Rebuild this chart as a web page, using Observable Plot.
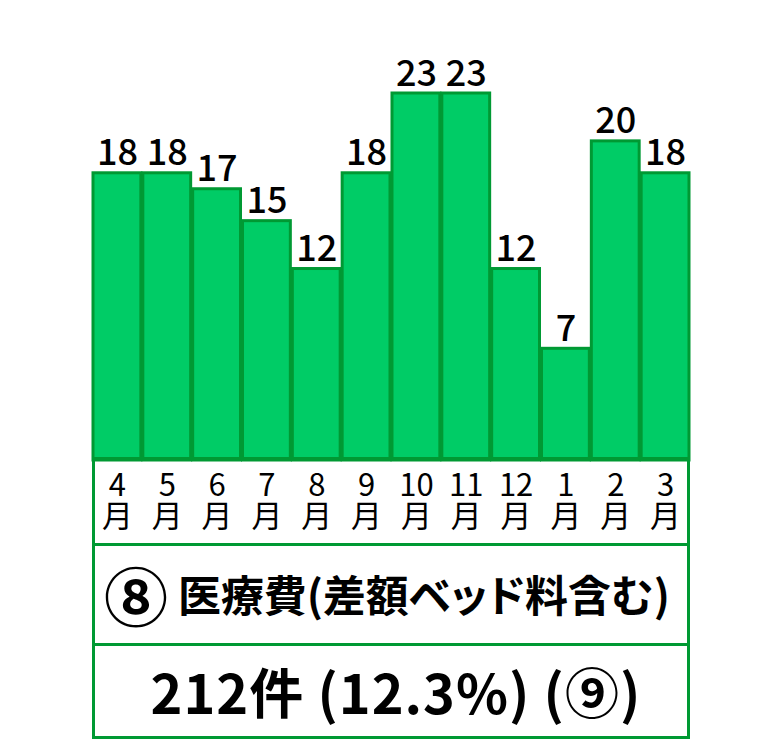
<!DOCTYPE html>
<html>
<head>
<meta charset="utf-8">
<script src="https://cdn.jsdelivr.net/npm/d3@7"></script>
<script src="https://cdn.jsdelivr.net/npm/@observablehq/plot@0.6"></script>
<style>
  html, body { margin: 0; padding: 0; background: #fff; }
  body { width: 781px; height: 740px; position: relative; overflow: hidden;
         font-family: "Noto Sans CJK JP", "Noto Sans", sans-serif; }
  #chart { position: absolute; left: 0; top: 0; }
  .box { position: absolute; left: 92px; width: 598px; box-sizing: border-box;
         border: 3px solid #009933; background: transparent; z-index: 2; }
  .row { position: absolute; left: 92px; width: 598px; box-sizing: border-box;
         border: 3px solid #009933; border-top: none; background: #fff; z-index: 2;
         display: flex; align-items: center; justify-content: center; color: #000;
         white-space: nowrap; }
  #title { top: 546px; height: 100px; font-weight: 700;
           padding-bottom: 4px; padding-right: 8px; }
  #title .num { font-size: 64px; font-weight: 700; margin-right: 10px; }
  #titleMain { font-size: 50px; font-feature-settings: "palt" 1; }
  #count { top: 646px; height: 93px; font-size: 54px; font-weight: 700; letter-spacing: 1px;
           padding-left: 10px; padding-bottom: 2px; }
</style>
</head>
<body>
<div id="chart"></div>
<div class="box" id="monthBox" style="top:457px;height:89px;"></div>
<div class="row" id="title"><span class="num" id="titleNum"></span><span id="titleMain"></span></div>
<div class="row" id="count"></div>
<script>
const months = ["4\n月","5\n月","6\n月","7\n月","8\n月","9\n月","10\n月","11\n月","12\n月","1\n月","2\n月","3\n月"];
const counts = [18, 18, 17, 15, 12, 18, 23, 23, 12, 7, 20, 18];
const titleNum = "⑧";
const titleText = "医療費(差額ベッド料含む)";
const totalText = "212件 (12.3%) (⑨)";

const data = months.map((m, i) => ({month: m, count: counts[i]}));

const chart = Plot.plot({
  width: 781,
  height: 545,
  marginLeft: 92,
  marginRight: 91,
  marginTop: 93,
  marginBottom: 85,
  style: {fontFamily: '"Noto Sans CJK JP", "Noto Sans", sans-serif', background: "transparent", overflow: "visible"},
  x: {domain: months, padding: 0, round: false, label: null},
  y: {domain: [0, 23], axis: null},
  marks: [
    Plot.barY(data, {x: "month", y: "count", fill: "#00CC66", stroke: "#009933", strokeWidth: 3, insetLeft: 1, insetRight: 1}),
    Plot.text(data, {x: "month", y: "count", text: d => String(d.count), lineAnchor: "bottom", dy: -8,
      fontSize: 36, fontFamily: '"Noto Sans CJK JP Medium", "Noto Sans CJK JP", sans-serif', fontWeight: 500, fill: "#000"}),
    Plot.axisX({tickSize: 0, tickPadding: 13, fontSize: 31, lineHeight: 1.0, label: null, fill: "#000"})
  ]
});
document.getElementById("chart").appendChild(chart);
document.getElementById("titleNum").textContent = titleNum;

const main = document.getElementById("titleMain");
main.textContent = titleText;
const target = 492;
const w0 = main.getBoundingClientRect().width;
if (w0 > target) main.style.fontSize = (50 * target / w0).toFixed(2) + "px";
document.getElementById("count").textContent = totalText;
</script>
</body>
</html>
